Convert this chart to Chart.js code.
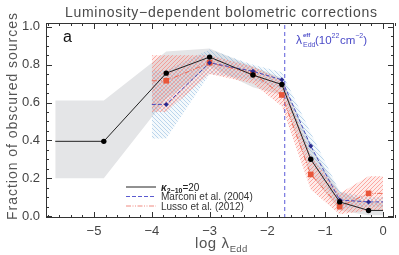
<!DOCTYPE html>
<html>
<head>
<meta charset="utf-8">
<script src="https://cdn.jsdelivr.net/npm/chart.js@4.4.1/dist/chart.umd.min.js"></script>
<style>
  html, body { margin: 0; padding: 0; background: #fff; }
  #wrap { width: 399px; height: 255px; }
</style>
</head>
<body>
<div id="wrap"><canvas id="chart"></canvas></div>
<script>
// kappa_2-10 = 20 (black): first and last entries are the flat extensions
const kappaX  = [-5.67, -4.83, -3.75, -3.0, -2.25, -1.75, -1.25, -0.75, -0.25, 0.0];
const kappaY  = [0.395, 0.395, 0.755, 0.84, 0.745, 0.695, 0.30, 0.075, 0.03, 0.03];
const kappaHi = [0.61, 0.61, 0.87, 0.885, 0.79, 0.73, 0.37, 0.13, 0.07, 0.07];
const kappaLo = [0.20, 0.20, 0.62, 0.79, 0.68, 0.64, 0.22, 0.03, 0.005, 0.005];

// Marconi et al. (2004) and Lusso et al. (2012)
const sampleX   = [-4.0, -3.75, -3.0, -2.25, -1.75, -1.25, -0.75, -0.25, 0.0];
const marconiY  = [0.59, 0.59, 0.81, 0.765, 0.72, 0.37, 0.085, 0.075, 0.075];
const marconiHi = [0.77, 0.77, 0.88, 0.80, 0.76, 0.44, 0.13, 0.10, 0.10];
const marconiLo = [0.41, 0.41, 0.75, 0.72, 0.67, 0.30, 0.04, 0.05, 0.05];
const lussoY    = [0.715, 0.715, 0.81, 0.755, 0.64, 0.22, 0.05, 0.12, 0.12];
const lussoHi   = [0.85, 0.85, 0.85, 0.79, 0.72, 0.32, 0.12, 0.21, 0.21];
const lussoLo   = [0.55, 0.55, 0.75, 0.70, 0.58, 0.14, 0.01, 0.03, 0.03];

const effX = -1.7;   // lambda_Edd^eff marker
const xTicks = [-5, -4, -3, -2, -1, 0];
const yTicks = [0.0, 0.2, 0.4, 0.6, 0.8, 1.0];

const FONT = '"Liberation Sans", Arial, sans-serif';
const canvas = document.getElementById('chart');
const ctx = canvas.getContext('2d');

function hatch(color, tint, dir) {
    const n = 4;
    const c = document.createElement('canvas');
    c.width = n; c.height = n;
    const g = c.getContext('2d');
    g.fillStyle = tint;
    g.fillRect(0, 0, n, n);
    g.strokeStyle = color;
    g.lineWidth = 1;
    g.beginPath();
    if (dir > 0) {
        g.moveTo(0, n); g.lineTo(n, 0);
        g.moveTo(-1, 1); g.lineTo(1, -1);
        g.moveTo(n - 1, n + 1); g.lineTo(n + 1, n - 1);
    } else {
        g.moveTo(0, 0); g.lineTo(n, n);
        g.moveTo(-1, n - 1); g.lineTo(1, n + 1);
        g.moveTo(n - 1, -1); g.lineTo(n + 1, 1);
    }
    g.stroke();
    return ctx.createPattern(c, 'repeat');
}

const pts = (xs, ys) => xs.map((x, i) => ({ x: x, y: ys[i] }));
const endsHidden = (r) => (c) => (c.dataIndex === 0 || c.dataIndex === c.dataset.data.length - 1) ? 0 : r;
const band = { borderWidth: 0, pointRadius: 0, showLine: true };

function fitText(g, text, size, target) {
    g.font = size + 'px ' + FONT;
    g.letterSpacing = '0px';
    const w = g.measureText(text).width;
    const sp = (target - w) / (text.length - 1);
    g.letterSpacing = sp.toFixed(2) + 'px';
}

const extras = {
    id: 'extras',
    afterDraw(chart) {
        const g = chart.ctx;
        const a = chart.chartArea;
        const xs = chart.scales.x, ys = chart.scales.y;
        g.save();

        // frame + inward ticks
        g.strokeStyle = '#333';
        g.lineWidth = 1;
        g.strokeRect(a.left + 0.5, a.top + 0.5, a.right - a.left - 1, a.bottom - a.top - 1);
        g.beginPath();
        for (let v = -5.8; v <= 0.2001; v += 0.2) {
            const major = Math.abs(v - Math.round(v)) < 1e-6;
            const px = Math.round(xs.getPixelForValue(v)) + 0.5;
            const len = major ? 6 : 3;
            g.moveTo(px, a.bottom); g.lineTo(px, a.bottom - len);
            g.moveTo(px, a.top); g.lineTo(px, a.top + len);
        }
        for (let v = 0; v <= 1.0001; v += 0.05) {
            const major = Math.abs(v * 5 - Math.round(v * 5)) < 1e-6;
            const py = Math.round(ys.getPixelForValue(v)) + 0.5;
            const len = major ? 6 : 3;
            g.moveTo(a.left, py); g.lineTo(a.left + len, py);
            g.moveTo(a.right, py); g.lineTo(a.right - len, py);
        }
        g.stroke();

        // title
        g.fillStyle = '#4a4a4a';
        g.textBaseline = 'alphabetic';
        g.textAlign = 'left';
        const title = 'Luminosity\u2212dependent bolometric corrections';
        fitText(g, title, 14, 312);
        g.fillText(title, 65, 17);

        // y title
        const yt = 'Fraction of obscured sources';
        g.save();
        g.translate(17, 220);
        g.rotate(-Math.PI / 2);
        fitText(g, yt, 14, 207);
        g.fillStyle = '#555';
        g.fillText(yt, 0, 0);
        g.restore();

        // x title
        g.letterSpacing = '0.6px';
        g.fillStyle = '#555';
        g.font = '15px ' + FONT;
        g.fillText('log \u03bb', 195, 248);
        const lx = 195 + g.measureText('log \u03bb').width;
        g.font = '9.5px ' + FONT;
        g.letterSpacing = '0.3px';
        g.fillText('Edd', lx, 252);
        g.letterSpacing = '0px';

        // panel label
        g.fillStyle = '#111';
        g.font = '16px ' + FONT;
        g.fillText('a', 63, 42);

        // lambda_Edd^eff annotation
        g.fillStyle = '#4a4ac8';
        g.font = '12px ' + FONT;
        g.fillText('\u03bb', 296, 44);
        g.font = 'bold 6px ' + FONT;
        g.fillText('eff', 303, 37);
        g.font = '7px ' + FONT;
        g.fillText('Edd', 303, 47);
        g.font = '11.5px ' + FONT;
        g.fillText('(10', 315, 44);
        let xx = 315 + g.measureText('(10').width;
        g.font = '7px ' + FONT;
        g.fillText('22', xx, 38);
        xx += g.measureText('22').width + 0.5;
        g.font = '11.5px ' + FONT;
        g.fillText('cm', xx, 44);
        xx += g.measureText('cm').width;
        g.font = '7px ' + FONT;
        g.fillText('\u22122', xx, 38);
        xx += g.measureText('\u22122').width;
        g.font = '11.5px ' + FONT;
        g.fillText(')', xx, 44);

        // legend
        const lx0 = 126, lx1 = 156, tx = 161;
        const rows = [
            { y: 187, color: '#222', dash: [] },
            { y: 196.5, color: '#5a5ad0', dash: [4, 2] },
            { y: 206, color: '#f08a80', dash: [5, 1.5, 1, 1.5, 1, 1.5] }
        ];
        rows.forEach(r => {
            g.strokeStyle = r.color;
            g.lineWidth = 1;
            g.setLineDash(r.dash);
            g.beginPath();
            g.moveTo(lx0, r.y); g.lineTo(lx1, r.y);
            g.stroke();
        });
        g.setLineDash([]);
        g.fillStyle = '#222';
        g.font = 'italic bold 10px ' + FONT;
        g.fillText('\u03ba', tx, 190.5);
        let kx = tx + g.measureText('\u03ba').width;
        g.font = 'bold 7px ' + FONT;
        g.fillText('2\u221210', kx, 193);
        kx += g.measureText('2\u221210').width;
        g.font = '10px ' + FONT;
        g.fillText('=20', kx, 190.5);
        g.fillStyle = '#333';
        g.font = '10px ' + FONT;
        g.letterSpacing = '0px';
        g.fillText('Marconi et al. (2004)', tx, 200);
        g.fillText('Lusso et al. (2012)', tx, 209.5);
        g.restore();
    }
};

const redHatch = hatch('rgba(250, 110, 100, 0.55)', 'rgba(250, 150, 140, 0.18)', 1);
const blueHatch = hatch('rgba(110, 165, 215, 0.42)', 'rgba(150, 195, 230, 0.1)', -1);

new Chart(ctx, {
    type: 'line',
    data: {
        datasets: [
            Object.assign({ data: pts(kappaX, kappaHi), fill: false, order: 10 }, band),
            Object.assign({ data: pts(kappaX, kappaLo), fill: '-1', backgroundColor: '#e4e5e7', order: 10 }, band),
            Object.assign({ data: pts(sampleX, marconiHi), fill: false, order: 9 }, band),
            Object.assign({ data: pts(sampleX, marconiLo), fill: '-1', backgroundColor: blueHatch, order: 9 }, band),
            Object.assign({ data: pts(sampleX, lussoHi), fill: false, order: 8 }, band),
            Object.assign({ data: pts(sampleX, lussoLo), fill: '-1', backgroundColor: redHatch, order: 8 }, band),
            {
                data: [{ x: effX, y: -0.01 }, { x: effX, y: 1.02 }],
                borderColor: '#5a5ad8', borderWidth: 1, borderDash: [4, 3],
                pointRadius: 0, fill: false, order: 6
            },
            {
                data: pts(sampleX, lussoY),
                borderColor: '#ec6a55', borderWidth: 1, borderDash: [5, 1.5, 1, 1.5, 1, 1.5],
                pointStyle: 'rect', pointRadius: endsHidden(4), pointBackgroundColor: '#e8563a',
                pointBorderWidth: 0, fill: false, order: 3
            },
            {
                data: pts(sampleX, marconiY),
                borderColor: '#4a4ab8', borderWidth: 1, borderDash: [4, 2],
                pointStyle: 'rectRot', pointRadius: endsHidden(2.5), pointBackgroundColor: '#2c2c90',
                pointBorderWidth: 0, fill: false, order: 2
            },
            {
                data: pts(kappaX, kappaY),
                borderColor: '#222', borderWidth: 1,
                pointStyle: 'circle', pointRadius: endsHidden(2.7), pointBackgroundColor: '#000',
                pointBorderWidth: 0, fill: false, order: 1
            }
        ]
    },
    options: {
        responsive: true,
        maintainAspectRatio: false,
        animation: false,
        events: [],
        layout: { padding: { top: 23, right: 5, left: 0, bottom: 0 } },
        plugins: { legend: { display: false }, tooltip: { enabled: false } },
        elements: { line: { tension: 0 } },
        scales: {
            x: {
                type: 'linear', min: -5.83, max: 0.19,
                afterFit: s => { s.height = 37; },
                afterBuildTicks: s => { s.ticks = xTicks.map(v => ({ value: v })); },
                grid: { display: false, drawTicks: false },
                border: { display: false },
                ticks: {
                    padding: 6, color: '#444', font: { family: FONT, size: 13 },
                    maxRotation: 0, autoSkip: false,
                    callback: v => v < 0 ? '\u2212' + Math.abs(v) : String(v)
                }
            },
            y: {
                type: 'linear', min: -0.01, max: 1.02,
                afterFit: s => { s.width = 46; },
                afterBuildTicks: s => { s.ticks = yTicks.map(v => ({ value: v })); },
                grid: { display: false, drawTicks: false },
                border: { display: false },
                ticks: {
                    padding: 6, color: '#444', font: { family: FONT, size: 13 },
                    callback: v => v.toFixed(1)
                }
            }
        }
    },
    plugins: [extras]
});
</script>
</body>
</html>
